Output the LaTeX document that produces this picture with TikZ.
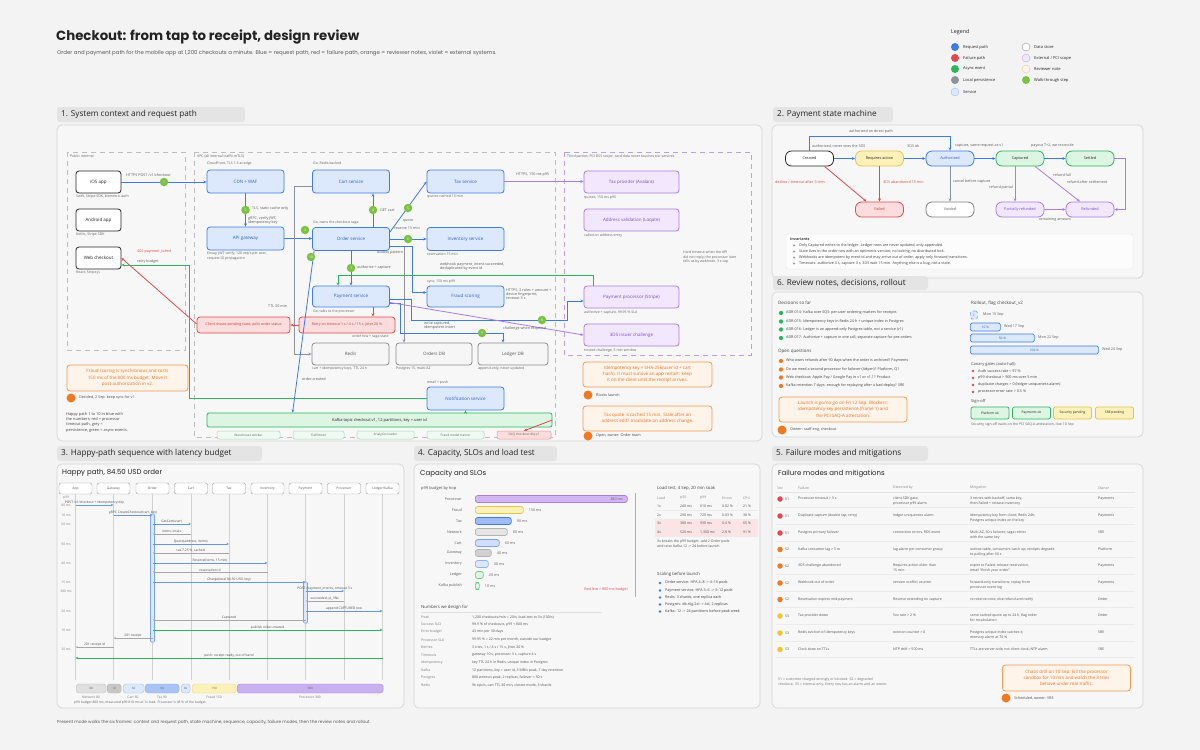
\documentclass[tikz,border=0pt]{standalone}
\usepackage{fontspec}
\setmainfont{Open Sans}
\newfontfamily\hand{Poppins}
\usetikzlibrary{arrows.meta,calc}
\newcommand\fz[2]{\fontsize{#1}{#2}\selectfont}
\definecolor{pagebg}{HTML}{F3F3F3}
\definecolor{framebg}{HTML}{F7F7F7}
\definecolor{frameline}{HTML}{D4D4D4}
\definecolor{tabbg}{HTML}{E4E4E4}
\definecolor{ink}{HTML}{222222}
\definecolor{capgray}{HTML}{5E5E5E}
\definecolor{reqblue}{HTML}{3F7BE6}
\definecolor{svcfill}{HTML}{DCE8FC}
\definecolor{svctext}{HTML}{2F5FBF}
\definecolor{failred}{HTML}{E04A4A}
\definecolor{failfill}{HTML}{FCDCDC}
\definecolor{asyncgreen}{HTML}{2DB55D}
\definecolor{asyncfill}{HTML}{DDF5E3}
\definecolor{persistgray}{HTML}{8E939B}
\definecolor{storefill}{HTML}{F6F6F6}
\definecolor{extviolet}{HTML}{A97CE8}
\definecolor{extfill}{HTML}{F1E8FD}
\definecolor{exttext}{HTML}{7A4CC2}
\definecolor{noteline}{HTML}{F39A4E}
\definecolor{notefill}{HTML}{FFF4EA}
\definecolor{notetext}{HTML}{E8711F}
\definecolor{noteorange}{HTML}{F07A22}
\definecolor{steplime}{HTML}{7CC242}
\definecolor{yelfill}{HTML}{FCF1B8}
\definecolor{yelline}{HTML}{E2C44D}
\definecolor{zonegray}{HTML}{BDBDBD}
\definecolor{sevyellow}{HTML}{F2C230}
\definecolor{sevorange}{HTML}{F07A22}
\newcommand\li[6]{%
  \node[circle, fill=#3, minimum size=#4pt, inner sep=0pt] (#6d) at (#1,#2) {};
  \node[lbl, anchor=west, text=ink!85] (#6t) at (#1+5,#2) {#5};}
\newcommand\fmrow[8]{%
  \node[circle, fill=#2, minimum size=5.5pt, inner sep=0pt] (fd#8) at (780,#1) {};
  \node[tabl, anchor=west] (fs#8) at (785,#1) {#3};
  \node[tabl, anchor=north west, align=left] (ff#8) at (798,#1-2) {#4};
  \node[tabl, anchor=north west, align=left] (fb#8) at (893,#1-2) {#5};
  \node[tabl, anchor=north west, align=left] (fm#8) at (970,#1-2) {#6};
  \node[tabl, anchor=north west, align=left] (fo#8) at (1098,#1-2) {#7};
  \draw[black!8, line width=0.4pt] (776,#1+8) -- (1135,#1+8);}
\newcommand\seqmsg[6]{%
  \draw[#5] (#1 |- 0,#3) -- node[above=0.6pt, seql] (#6) {#4} (#2 |- 0,#3);}
\begin{document}
\begin{tikzpicture}[x=1pt,y=-1pt,
  every node/.style={inner sep=0pt, text=ink},
  frame/.style={draw=frameline, fill=framebg, rounded corners=5pt, line width=0.7pt},
  tabtxt/.style={font=\fz{8.2}{9}, anchor=west, text=ink},
  captxt/.style={font=\fz{3.5}{4.2}, text=capgray, anchor=north west},
  lbl/.style={font=\fz{3.7}{4.4}, text=capgray},
  tabl/.style={font=\fz{3.5}{5}, text=ink!80},
  seql/.style={font=\fz{3.3}{4}, text=ink!80},
  box/.style={rounded corners=3pt, line width=0.8pt, font=\fz{4.5}{5.4}, align=center},
  svc/.style={box, draw=reqblue, fill=svcfill, text=svctext, minimum width=77pt, minimum height=23pt},
  client/.style={box, draw=black!85, fill=white, minimum width=45pt, minimum height=22pt},
  store/.style={box, draw=black!45, fill=storefill, text=ink!75, minimum height=22pt},
  ext/.style={box, draw=extviolet, fill=extfill, text=exttext, minimum width=95pt, minimum height=22pt},
  failbox/.style={box, draw=failred, fill=failfill, text=failred!85!black, minimum height=16pt, font=\fz{3.6}{4.3}},
  note/.style={box, draw=noteline, fill=notefill, text=notetext, font=\fz{4.5}{6.2}},
  kbox/.style={rounded corners=2pt, draw=asyncgreen!45, fill=asyncfill!45, line width=0.5pt, minimum height=8pt, font=\fz{3.2}{4}, text=ink!70},
  stepdot/.style={circle, fill=steplime, minimum size=8.5pt, font=\fz{3.4}{4}, text=white},
  odot/.style={circle, fill=noteorange, minimum size=9pt},
  req/.style={draw=reqblue, line width=0.8pt, -{Stealth[length=3.2pt,width=2.8pt]}},
  fail/.style={draw=failred, line width=0.8pt, -{Stealth[length=3.2pt,width=2.8pt]}},
  async/.style={draw=asyncgreen, line width=0.8pt, -{Stealth[length=3.2pt,width=2.8pt]}},
  persist/.style={draw=persistgray, line width=0.8pt, -{Stealth[length=3.2pt,width=2.8pt]}},
  extl/.style={draw=extviolet, line width=0.8pt, -{Stealth[length=3.2pt,width=2.8pt]}},
  zone/.style={draw=zonegray, dash pattern=on 5pt off 4pt, line width=0.7pt},
  pstate/.style={rounded corners=6pt, line width=0.8pt, minimum width=48pt, minimum height=15pt, font=\fz{3.8}{4.5}},
  hdr/.style={rounded corners=2pt, draw=black!40, fill=white, minimum width=33pt, minimum height=11pt, font=\fz{3.3}{4}, text=ink!75},
  hbar/.style={rounded corners=2.5pt, line width=0.7pt, minimum height=7pt, anchor=west},
  rbar/.style={rounded corners=1.5pt, draw=reqblue, fill=svcfill, line width=0.7pt, minimum height=8pt, font=\fz{3.2}{4}, text=svctext},
  sbox/.style={rounded corners=2pt, line width=0.7pt, minimum width=38pt, minimum height=12pt, font=\fz{3.3}{4}},
  seg/.style={rounded corners=3pt, minimum height=9pt, font=\fz{3}{4}, text=ink!70, anchor=west}
]
\useasboundingbox (0,0) rectangle (1200,750);
\fill[pagebg] (0,0) rectangle (1200,750);

% ---------- title ----------
\node[anchor=west, font=\hand\bfseries\fz{13.3}{15}] (title) at (56,37) {Checkout: from tap to receipt, design review};
\node[anchor=west, font=\hand\fz{5.4}{6.5}, text=ink!75] (subtitle) at (57,53) {Order and payment path for the mobile app at 1,200 checkouts a minute. Blue = request path, red = failure path, orange = reviewer notes, violet = external systems.};

% ---------- legend ----------
\node[anchor=west, font=\fz{5.3}{6}] (legT) at (951,32) {Legend};
\node[circle, fill=reqblue, minimum size=8pt] (lg1) at (955,47) {};
\node[anchor=west, font=\fz{4}{5}] (lg1t) at (963,47) {Request path};
\node[circle, fill=failred, minimum size=8pt] (lg2) at (955,58) {};
\node[anchor=west, font=\fz{4}{5}] (lg2t) at (963,58) {Failure path};
\node[circle, fill=asyncgreen, minimum size=8pt] (lg3) at (955,69) {};
\node[anchor=west, font=\fz{4}{5}] (lg3t) at (963,69) {Async event};
\node[circle, fill=persistgray, minimum size=8pt] (lg4) at (955,80) {};
\node[anchor=west, font=\fz{4}{5}] (lg4t) at (963,80) {Local persistence};
\node[circle, fill=svcfill, draw=reqblue!50, minimum size=8pt] (lg5) at (955,92) {};
\node[anchor=west, font=\fz{4}{5}] (lg5t) at (963,92) {Service};
\node[circle, fill=white, draw=black!40, minimum size=8pt] (lg6) at (1026,47) {};
\node[anchor=west, font=\fz{4}{5}] (lg6t) at (1034,47) {Data store};
\node[circle, fill=extfill, draw=extviolet!70, minimum size=8pt] (lg7) at (1026,58) {};
\node[anchor=west, font=\fz{4}{5}] (lg7t) at (1034,58) {External / PCI scope};
\node[circle, fill=notefill, draw=noteline!60, minimum size=8pt] (lg8) at (1026,69) {};
\node[anchor=west, font=\fz{4}{5}] (lg8t) at (1034,69) {Reviewer note};
\node[circle, fill=steplime, minimum size=8pt] (lg9) at (1026,80) {};
\node[anchor=west, font=\fz{4}{5}] (lg9t) at (1034,80) {Walk-through step};

% =====================================================================
% FRAME 1
\fill[tabbg, rounded corners=3pt] (57,107) rectangle (245,122);
\node[tabtxt] (tab1) at (61,114.5) {1. System context and request path};
\draw[frame] (57,125) rectangle (762,441);

\draw[zone] (67,152) rectangle (185,350);
\node[captxt] (zpub) at (70,155) {Public internet};
\draw[zone] (194,152) rectangle (555,437);
\node[captxt] (zvpc) at (197,155) {VPC (all internal traffic mTLS)};
\draw[zone, draw=extviolet!75] (564,152) rectangle (751,355);
\node[captxt] (zext) at (567,155) {Third parties, PCI DSS scope: card data never touches our services};

% clients
\node[client] (ios) at (98.5,182) {iOS app};
\node[captxt] (iosc) at (76,195) {Swift, Stripe SDK, biometric auth};
\node[client] (android) at (98.5,220) {Android app};
\node[captxt] (androidc) at (76,233) {Kotlin, Stripe SDK};
\node[client] (web) at (98.5,258) {Web checkout};
\node[captxt] (webc) at (76,271) {React, Stripe.js};

% services
\node[svc] (cdn) at (245.5,181.5) {CDN + WAF};
\node[captxt] (cdnc) at (207,162) {CloudFront, TLS 1.3 at edge};
\node[svc] (apigw) at (245.5,238.5) {API gateway};
\node[captxt, align=left] (apigwc) at (207,252) {Envoy, JWT verify, 120 req/s per user,\\request ID propagation};
\node[svc] (cart) at (351,181.5) {Cart service};
\node[captxt] (cartc) at (313,162) {Go, Redis-backed};
\node[svc] (tax) at (465.5,181.5) {Tax service};
\node[captxt] (taxc) at (427,195) {quotes cached 15 min};
\node[svc] (order) at (351,239) {Order service};
\node[captxt] (orderc) at (313,221) {Go, owns the checkout saga};
\node[svc] (inv) at (465.5,239) {Inventory service};
\node[captxt] (invc) at (427,252.5) {reservation 15 min};
\node[svc, minimum height=21pt] (pay) at (351,296.5) {Payment service};
\node[captxt] (payc) at (313,310) {Go, talks to the processor};
\node[svc, minimum height=21pt] (fraud) at (465.5,296.5) {Fraud scoring};
\node[captxt] (fraudc) at (427,279.5) {sync, 150 ms p99};
\node[svc] (notif) at (465.5,398.5) {Notification service};
\node[captxt] (notifc) at (427,381) {email + push};

% failure boxes
\node[failbox, minimum width=96pt] (retry) at (347,325) {Retry on timeout 1 s / 4 s / 15 s, jitter 20 \%};
\node[failbox, minimum width=93pt] (cfail) at (243.5,325) {Client shows pending state, polls order status};
\node[captxt] (retryc) at (352,334.5) {order row + saga state};

% stores
\node[store, minimum width=77pt] (redis) at (350.5,354) {Redis};
\node[captxt] (redisc) at (312,367) {cart + idempotency keys, TTL 24 h};
\node[store, minimum width=76pt] (ordersdb) at (434,354) {Orders DB};
\node[captxt] (ordersdbc) at (396,367) {Postgres 15, multi-AZ};
\node[store, minimum width=70pt] (ledgerdb) at (513,354) {Ledger DB};
\node[captxt] (ledgerdbc) at (478,367) {append-only, never updated};

% kafka
\node[rounded corners=2pt, draw=asyncgreen, fill=asyncfill, line width=0.8pt, minimum width=345pt, minimum height=14pt, font=\fz{4}{5}] (kafka) at (379.5,420) {Kafka topic checkout.v1, 12 partitions, key = user id};
\node[kbox, minimum width=63pt] (kw) at (248.5,435) {Warehouse worker};
\node[kbox, minimum width=51pt] (kf) at (318.5,435) {Fulfilment};
\node[kbox, minimum width=57pt] (ka) at (385.5,435) {Analytics loader};
\node[kbox, minimum width=57pt] (kt) at (455.5,435) {Fraud model trainer};
\node[kbox, draw=failred!60, fill=failfill, minimum width=54pt] (dlq) at (524,435) {DLQ checkout.dlq.v1};

% external
\node[ext] (taxp) at (631.5,182) {Tax provider (Avalara)};
\node[captxt] (taxpc) at (584,195.5) {quotes, 150 ms p95};
\node[ext] (addr) at (631.5,220) {Address validation (Loqate)};
\node[captxt] (addrc) at (584,233.5) {called on address entry};
\node[ext] (stripe) at (631.5,297) {Payment processor (Stripe)};
\node[captxt] (stripec) at (584,310.5) {authorize + capture, 99.95 \% SLA};
\node[ext] (tds) at (631.5,335) {3DS issuer challenge};
\node[captxt] (tdsc) at (584,348.5) {hosted challenge, 5 min window};
\node[captxt, align=left] (extnote) at (683,251) {Hard timeout when the API\\did not reply; the processor later\\tells us by webhook, 3 s cap};

% connectors
\draw[req] (ios.east) -- (ios.east -| cdn.west);
\draw[req] (cdn) -- (apigw);
\draw[req] (apigw.east) -- (apigw.east -| order.west);
\draw[req] ([xshift=22pt]order.north) -- ([xshift=22pt]cart.south);
\draw[req] ($(order.north east)+(0,5)$) -- (tax.west);
\draw[req] (order.east) -- (inv.west);
\draw[req] (order) -- (pay);
\draw[persist] ($(order.east)+(0,7)$) -| ([xshift=-30pt]ordersdb.north);
\draw[req] ($(order.east)+(0,7)$) -| ($(fraud.west)+(-14,-4)$) -- ($(fraud.west)+(0,-4)$);
\draw[persist] ($(cart.west)+(0,4.5)$) -- ++(-18,0) |- (redis.west);
\draw[fail] ([xshift=22pt]pay.south) -- ([xshift=22pt]pay.south |- retry.north);
\draw[fail] (retry.west) -- (cfail.east);
\draw[fail] ([yshift=1pt]cfail.west) -- (web.east);
\coordinate (gw1) at (189,398.5);
\draw[async] (notif.west) -- (gw1) |- ($(web.east)+(0,7)$);
\draw[async] ($(stripe.north)+(-38.5,0)$) -- ++(0,-10) -| ([xshift=-13pt]pay.north);
\draw[req] ($(pay.east)+(0,3)$) -- ++(21,0) |- (567,320) |- ($(stripe.west)+(0,4)$);
\draw[req] ($(pay.east)+(0,7)$) -| (400,333) -| ([xshift=-10pt]ledgerdb.north);
\draw[extl] ($(pay.east)+(0,6)$) -- (tds.west);
\draw[extl] (tax.east) -- (tax.east -| taxp.west);
\draw[req] ([xshift=2pt]order.south west) -- ([xshift=86pt]kafka.north west);
\draw[async] (kafka.north -| notif.south) -- (notif.south);
\draw[fail] (kafka.east) -- (dlq.north);

% step dots
\node[stepdot] (s1) at (164,182) {1};
\node[stepdot] (s2) at (245.5,210) {2};
\node[stepdot] (s3) at (305,230) {3};
\node[stepdot] (s4) at (373,210) {4};
\node[stepdot] (s5) at (408,208) {5};
\node[stepdot] (s6) at (408,239) {6};
\node[stepdot] (s7) at (351,268) {7};
\node[stepdot] (s8) at (542,320) {8};
\node[stepdot] (s9) at (482,333) {9};
\node[stepdot] (s10) at (311,257) {10};

% connector labels
\node[lbl, anchor=west] (l1) at (126,175) {HTTPS POST /v1/checkout};
\node[lbl, anchor=west] (l2) at (252,209) {TLS, static cache only};
\node[lbl, anchor=north west, align=left] (l3) at (248,216.5) {gRPC, verify JWT,\\idempotency key};
\node[lbl, anchor=west] (l4) at (380,210) {GET cart};
\node[lbl] (l5) at (408,221) {quote};
\node[lbl] (l6) at (407,228) {reserve 15 min};
\node[lbl, anchor=west] (l7) at (377,252.5) {outbox pattern};
\node[lbl, anchor=west] (l8) at (357,268) {authorize + capture};
\node[lbl, anchor=north west, align=left] (l9) at (440,262) {webhook payment\_intent.succeeded,\\deduplicated by event id};
\node[lbl, anchor=north west, align=left] (l10) at (506,288) {HTTPS, 3 rules + amount +\\device fingerprint,\\timeout 3 s};
\node[lbl, anchor=north west, align=left] (l11) at (424,321.5) {write captured,\\idempotent insert};
\node[lbl, anchor=west] (l12) at (503,329) {challenge when required};
\node[lbl, anchor=west] (l13) at (516,175) {HTTPS, 150 ms p95};
\node[lbl, anchor=west] (l14) at (268,306) {TTL 30 min};
\node[lbl, anchor=west] (l15) at (302,379) {order.created};
\node[lbl, anchor=west, text=failred] (l16) at (137,252) {402 payment\_failed};
\node[lbl, anchor=west] (l17) at (137,262) {retry budget};

% notes frame 1
\node[note, minimum width=121pt, minimum height=26pt] (n1) at (127.5,378) {Fraud scoring is synchronous and costs\\150 ms of the 800 ms budget. Move it\\post-authorization in v2.};
\node[odot] (n1d) at (71,398) {};
\node[lbl, anchor=west, text=ink!80] (n1t) at (79,398) {Decided, 2 Sep: keep sync for v1};
\node[anchor=north west, align=left, font=\fz{3.9}{5.3}, text=ink!85] (hp) at (66,412) {Happy path 1 to 10 in blue with\\the numbers; red = processor\\timeout path, grey =\\persistence, green = async events.};
\node[note, minimum width=129pt, minimum height=25pt] (n2) at (647.5,374.5) {Idempotency key = SHA-256(user id + cart\\hash). It must survive an app restart: keep\\it on the client until the receipt arrives.};
\node[odot] (n2d) at (588,395) {};
\node[lbl, anchor=west, text=ink!80] (n2t) at (596,395) {Blocks launch};
\node[note, minimum width=129pt, minimum height=25pt] (n3) at (647.5,418.5) {Tax quote is cached 15 min. Stale after an\\address edit? Invalidate on address change.};
\node[odot] (n3d) at (588,436) {};
\node[lbl, anchor=west, text=ink!80] (n3t) at (596,436) {Open, owner: Order team};

% =====================================================================
% FRAME 2
\fill[tabbg, rounded corners=3pt] (773,107) rectangle (893,122);
\node[tabtxt] (tab2) at (777,114.5) {2. Payment state machine};
\draw[frame] (772,125) rectangle (1143,278);

\node[pstate, draw=black!85, fill=white] (created) at (809.5,158.5) {Created};
\node[pstate, draw=yelline, fill=yelfill] (reqact) at (879.5,158.5) {Requires action};
\node[pstate, draw=reqblue, fill=svcfill, text=svctext] (authd) at (950,158.5) {Authorized};
\node[pstate, draw=asyncgreen, fill=asyncfill] (capt) at (1020,158.5) {Captured};
\node[pstate, draw=asyncgreen, fill=asyncfill] (settled) at (1090,158.5) {Settled};
\node[pstate, draw=failred, fill=failfill, text=failred!85!black] (failed) at (879.5,209.5) {Failed};
\node[pstate, draw=black!50, fill=white, text=ink!70] (voided) at (950,209.5) {Voided};
\node[pstate, draw=extviolet, fill=extfill, text=exttext] (partref) at (1020,209.5) {Partially refunded};
\node[pstate, draw=extviolet, fill=extfill, text=exttext] (refunded) at (1090,209.5) {Refunded};

\draw[req] (created) -- (reqact);
\draw[req] (reqact) -- (authd);
\draw[req] (authd) -- (capt);
\draw[req] (capt) -- (settled);
\draw[req] (created.north) -- ++(0,-14) -| (authd.north);
\draw[fail] ([xshift=15pt]created.south) -- ([xshift=-13pt]failed.north);
\draw[fail] (reqact) -- (failed);
\draw[persist] (authd) -- (voided);
\draw[extl] ([xshift=-5pt]capt.south) -- ([xshift=-5pt]partref.north);
\draw[extl] ([xshift=15pt]capt.south) -- ([xshift=-10pt]refunded.north);
\draw[extl] (partref) -- (refunded);
\draw[extl] (settled.east) -- ++(11,0) |- (refunded.east);

\node[lbl] (m1) at (871,131.5) {authorized on direct path};
\node[lbl, anchor=west] (m2) at (812,146) {authorized, never sees the 3DS};
\node[lbl, anchor=west] (m3) at (907,146) {3DS ok};
\node[lbl, anchor=west] (m4) at (955,146) {capture, same request as v1};
\node[lbl, anchor=west] (m5) at (1031,146) {payout T+2, we reconcile};
\node[lbl, anchor=west, text=failred] (m6) at (775,182) {decline / timeout after 3 tries};
\node[lbl, anchor=west, text=failred] (m7) at (883,182) {3DS abandoned 15 min};
\node[lbl, anchor=west] (m8) at (953,182) {cancel before capture};
\node[lbl, anchor=east] (m9) at (1013,188) {refund partial};
\node[lbl, anchor=west] (m10) at (1053,175) {refund full};
\node[lbl, anchor=west] (m11) at (1067,182) {refund after settlement};
\node[lbl] (m12) at (1055,220) {remaining amount};

\draw[rounded corners=2pt, fill=white!60!framebg, draw=black!10] (786,234) rectangle (1133,269);
\node[anchor=west, font=\fz{3.8}{4.5}\bfseries, text=ink!85] (invT) at (790,239) {Invariants};
\li{794}{245.5}{black!40}{2.4}{Only Captured writes to the ledger. Ledger rows are never updated, only appended.}{iv1}
\li{794}{251.5}{black!40}{2.4}{State lives in the order row with an optimistic version; no locking, no distributed lock.}{iv2}
\li{794}{257.5}{black!40}{2.4}{Webhooks are idempotent by event id and may arrive out of order: apply only forward transitions.}{iv3}
\li{794}{263.5}{black!40}{2.4}{Timeouts: authorize 3 s, capture 4 s, 3DS wait 15 min. Anything else is a bug, not a state.}{iv4}

% =====================================================================
% FRAME 6
\draw[frame] (772,292) rectangle (1143,437);
\fill[tabbg, rounded corners=3pt] (773,276) rectangle (928,290);
\node[tabtxt] (tab6) at (777,283) {6. Review notes, decisions, rollout};

\node[anchor=west, font=\fz{4.5}{5.4}, text=ink!85] (decT) at (778,303) {Decisions so far};
\li{781}{313}{asyncgreen}{4.3}{ADR-014: Kafka over SQS: per-user ordering matters for receipts}{dc1}
\li{781}{321.5}{asyncgreen}{4.3}{ADR-015: Idempotency keys in Redis 24 h + unique index in Postgres}{dc2}
\li{781}{329.5}{asyncgreen}{4.3}{ADR-016: Ledger is an append-only Postgres table, not a service (v1)}{dc3}
\li{781}{338}{asyncgreen}{4.3}{ADR-017: Authorize + capture in one call; separate capture for pre-orders}{dc4}
\node[anchor=west, font=\fz{4.5}{5.4}, text=ink!85] (oqT) at (778,351) {Open questions};
\li{781}{361}{noteorange}{4.3}{Who owns refunds after 90 days when the order is archived? Payments}{oq1}
\li{781}{369.5}{noteorange}{4.3}{Do we need a second processor for failover (Adyen)? Platform, Q1}{oq2}
\li{781}{377.5}{noteorange}{4.3}{Web checkout: Apple Pay / Google Pay in v1 or v1.1? Product}{oq3}
\li{781}{386}{noteorange}{4.3}{Kafka retention 7 days: enough for replaying after a bad deploy? SRE}{oq4}
\node[note, minimum width=128pt, minimum height=25pt] (n6) at (843,409.5) {Launch is go/no-go on Fri 12 Sep. Blockers:\\idempotency key persistence (frame 1) and\\the PCI SAQ-A attestation.};
\node[odot] (n6d) at (782,430) {};
\node[lbl, anchor=west, text=ink!80] (n6t) at (790,430) {Owner: staff eng, checkout};

\node[anchor=west, font=\fz{4.5}{5.4}, text=ink!85] (roT) at (971,303) {Rollout, flag checkout\_v2};
\node[rbar, minimum width=7pt, anchor=west, draw=reqblue!70, dashed] (r1) at (970,315) {1};
\node[lbl, anchor=west] (r1t) at (983,315) {Mon 15 Sep};
\node[rbar, minimum width=30pt, anchor=west] (r2) at (970,327) {10 \%};
\node[lbl, anchor=west] (r2t) at (1004,327) {Wed 17 Sep};
\node[rbar, minimum width=64pt, anchor=west] (r3) at (970,338) {50 \%};
\node[lbl, anchor=west] (r3t) at (1038,338) {Mon 22 Sep};
\node[rbar, minimum width=128pt, anchor=west] (r4) at (970,350) {100 \%};
\node[lbl, anchor=west] (r4t) at (1102,350) {Wed 24 Sep};
\node[anchor=west, font=\fz{4}{5}, text=ink!85] (cgT) at (971,364) {Canary gates (auto-halt)};
\li{973}{371}{failred}{2.6}{Auth success rate < 97 \%}{cg1}
\li{973}{378}{failred}{2.6}{p99 checkout > 900 ms over 5 min}{cg2}
\li{973}{385}{failred}{2.6}{duplicate charges > 0 (ledger uniqueness alarm)}{cg3}
\li{973}{392}{failred}{2.6}{processor error rate > 0.5 \%}{cg4}
\node[anchor=west, font=\fz{4}{5}, text=ink!85] (soT) at (971,401) {Sign-off};
\node[sbox, draw=asyncgreen, fill=asyncfill] (so1) at (990,413) {Platform ok};
\node[sbox, draw=asyncgreen, fill=asyncfill] (so2) at (1031.5,413) {Payments ok};
\node[sbox, draw=yelline, fill=yelfill] (so3) at (1072.5,413) {Security pending};
\node[sbox, draw=yelline, fill=yelfill] (so4) at (1114.5,413) {SRE pending};
\node[captxt] (soc) at (971,423) {Security sign-off waits on the PCI SAQ-A attestation, due 10 Sep};

% =====================================================================
% FRAME 3
\fill[tabbg, rounded corners=3pt] (57,446) rectangle (262,461);
\node[tabtxt] (tab3) at (61,453.5) {3. Happy-path sequence with latency budget};
\draw[frame] (57,464) rectangle (404,708);
\node[anchor=west, font=\hand\fz{7}{8}] (f3T) at (62,473) {Happy path, 84.50 USD order};

\node[hdr] (hApp) at (75.5,488.5) {App};
\node[hdr] (hGw) at (113.5,488.5) {Gateway};
\node[hdr] (hOrd) at (152.5,488.5) {Order};
\node[hdr] (hCart) at (191,488.5) {Cart};
\node[hdr] (hTax) at (229,488.5) {Tax};
\node[hdr] (hInv) at (267.5,488.5) {Inventory};
\node[hdr] (hPay) at (305.5,488.5) {Payment};
\node[hdr] (hProc) at (344,488.5) {Processor};
\node[hdr] (hLed) at (382.5,488.5) {Ledger/Kafka};
\foreach \h in {hApp,hGw,hOrd,hCart,hTax,hInv,hPay,hProc,hLed}
  \draw[black!18, line width=0.5pt] (\h.south) -- (\h |- 0,680);
\draw[rounded corners=1pt, fill=svcfill, draw=reqblue!70, line width=0.6pt] (150.5,514) rectangle (154.5,642);
\draw[rounded corners=1pt, fill=svcfill, draw=reqblue!70, line width=0.6pt] (303.5,582) rectangle (307.5,623);

\tikzset{sreq/.style={draw=reqblue!80, line width=0.7pt, -{Stealth[length=2.6pt,width=2.4pt]}},
         sret/.style={draw=black!35, line width=0.5pt, -{Stealth[length=2.4pt,width=2.2pt,open]}},
         sasy/.style={draw=asyncgreen, line width=0.9pt, -{Stealth[length=2.6pt,width=2.4pt]}}}
\seqmsg{hApp}{hGw}{505}{POST /v1/checkout + Idempotency-Key}{sreq}{q1}
\seqmsg{hGw}{hOrd}{515}{gRPC CreateCheckout(cart, key)}{sreq}{q2}
\seqmsg{hOrd}{hCart}{524}{GetCart(user)}{sreq}{q3}
\seqmsg{hCart}{hOrd}{534}{items, totals}{sret}{q4}
\seqmsg{hOrd}{hTax}{544}{Quote(address, items)}{sreq}{q5}
\seqmsg{hTax}{hOrd}{553}{tax 7.25 \%, cached}{sret}{q6}
\seqmsg{hOrd}{hInv}{563}{Reserve(items, 15 min)}{sreq}{q7}
\seqmsg{hInv}{hOrd}{572}{reservation id}{sret}{q8}
\seqmsg{hOrd}{hPay}{582}{Charge(total 84.50 USD, key)}{sreq}{q9}
\seqmsg{hPay}{hProc}{591}{POST /payment\_intents, timeout 3 s}{sreq}{q10}
\seqmsg{hProc}{hPay}{601}{succeeded, pi\_3Nx}{sret}{q11}
\seqmsg{hPay}{hLed}{611}{append CAPTURED row}{sreq}{q12}
\seqmsg{hPay}{hOrd}{620}{Captured}{sret}{q13}
\seqmsg{hOrd}{hLed}{630}{publish order.created}{sasy}{q14}
\seqmsg{hOrd}{hGw}{638}{201 receipt}{sret}{q15}
\seqmsg{hGw}{hApp}{647}{201 receipt id}{sret}{q16}
\seqmsg{hLed}{hApp}{658}{push: receipt ready, out of band}{sasy}{q17}

\node[seql, text=ink!55] (tl0) at (66,498) {p99};
\node[seql, text=ink!55] (tl1) at (66,505) {80 ms};
\node[seql, text=ink!55] (tl2) at (66,515) {10 ms};
\node[seql, text=ink!55] (tl3) at (66,524) {60 ms};
\node[seql, text=ink!55] (tl4) at (66,544) {90 ms};
\node[seql, text=ink!55] (tl5) at (66,563) {40 ms};
\node[seql, text=ink!55] (tl6) at (66,582) {15 ms};
\node[seql, text=ink!55] (tl7) at (66,591) {380 ms};
\node[seql, text=ink!55] (tl8) at (66,611) {20 ms};
\node[seql, text=ink!55] (tl9) at (66,630) {10 ms};
\node[seql, text=ink!55] (tl10) at (66,649) {30 ms};

\node[seg, fill=black!12, draw=black!25, minimum width=30pt] (g1) at (76,688.5) {80};
\node[seg, fill=black!22, draw=black!30, minimum width=14pt] (g2) at (107,688.5) {10};
\node[seg, fill=svcfill, draw=reqblue!50, minimum width=21pt] (g3) at (123,688.5) {60};
\node[seg, fill=reqblue!45, draw=reqblue!60, minimum width=34pt] (g4) at (145,688.5) {90};
\node[seg, fill=svcfill, draw=reqblue!50, minimum width=9pt] (g5) at (181,688.5) {40};
\node[seg, fill=yelfill, draw=yelline!70, minimum width=44pt] (g6) at (192,688.5) {150};
\node[seg, fill=extviolet!60, draw=extviolet, minimum width=146pt] (g7) at (237,688.5) {380};
\node[seql, text=ink!60] (gl1) at (91,697) {Network 80};
\node[seql, text=ink!60] (gl2) at (133,697) {Cart 60};
\node[seql, text=ink!60] (gl3) at (162,697) {Tax 90};
\node[seql, text=ink!60] (gl4) at (214,697) {Fraud 150};
\node[seql, text=ink!60] (gl5) at (310,697) {Processor 380};
\node[seql, anchor=west, text=ink!70] (gcap) at (74,702.5) {p99 budget 800 ms, measured p99 810 ms at 1x load. Processor is 48 \% of the budget.};

% =====================================================================
% FRAME 4
\fill[tabbg, rounded corners=3pt] (414,446) rectangle (557,461);
\node[tabtxt] (tab4) at (418,453.5) {4. Capacity, SLOs and load test};
\draw[frame] (414,464) rectangle (760,708);
\node[anchor=west, font=\hand\fz{7}{8}] (f4T) at (420,474) {Capacity and SLOs};
\node[anchor=west, font=\fz{4}{5}, text=ink!80] (bT) at (421,488) {p99 budget by hop};

\node[lbl, anchor=east] (bl1) at (462,499) {Processor};
\node[hbar, fill=extviolet!55, draw=extviolet, minimum width=152pt] (bp1) at (475,499) {};
\node[lbl, anchor=east, text=ink!70] (bv1) at (623,499) {380 ms};
\node[lbl, anchor=east] (bl2) at (462,510) {Fraud};
\node[hbar, fill=yelfill, draw=yelline, minimum width=48pt] (bp2) at (475,510) {};
\node[lbl, anchor=west] (bv2) at ([xshift=5pt]bp2.east) {150 ms};
\node[lbl, anchor=east] (bl3) at (462,521) {Tax};
\node[hbar, fill=reqblue!50, draw=reqblue, minimum width=36pt] (bp3) at (475,521) {};
\node[lbl, anchor=west] (bv3) at ([xshift=5pt]bp3.east) {90 ms};
\node[lbl, anchor=east] (bl4) at (462,532) {Network};
\node[hbar, fill=black!10, draw=black!30, minimum width=32pt] (bp4) at (475,532) {};
\node[lbl, anchor=west] (bv4) at ([xshift=5pt]bp4.east) {80 ms};
\node[lbl, anchor=east] (bl5) at (462,543) {Cart};
\node[hbar, fill=reqblue!25, draw=reqblue!70, minimum width=24pt] (bp5) at (475,543) {};
\node[lbl, anchor=west] (bv5) at ([xshift=5pt]bp5.east) {60 ms};
\node[lbl, anchor=east] (bl6) at (462,553) {Gateway};
\node[hbar, fill=black!18, draw=black!30, minimum width=16pt] (bp6) at (475,553) {};
\node[lbl, anchor=west] (bv6) at ([xshift=5pt]bp6.east) {40 ms};
\node[lbl, anchor=east] (bl7) at (462,564) {Inventory};
\node[hbar, fill=svcfill, draw=reqblue!60, minimum width=13pt] (bp7) at (475,564) {};
\node[lbl, anchor=west] (bv7) at ([xshift=5pt]bp7.east) {30 ms};
\node[lbl, anchor=east] (bl8) at (462,575) {Ledger};
\node[hbar, fill=asyncfill, draw=asyncgreen!70, minimum width=8pt] (bp8) at (475,575) {};
\node[lbl, anchor=west] (bv8) at ([xshift=5pt]bp8.east) {20 ms};
\node[lbl, anchor=east] (bl9) at (462,586) {Kafka publish};
\node[hbar, fill=asyncfill, draw=asyncgreen!70, minimum width=4pt] (bp9) at (475,586) {};
\node[lbl, anchor=west] (bv9) at ([xshift=5pt]bp9.east) {10 ms};
\draw[failred!60, line width=0.8pt] (635,493) coordinate (rl1) -- (635,597) coordinate (rl2);
\node[lbl, anchor=east, text=failred] (rlt) at (628,590) {Red line = 800 ms budget};

\node[anchor=west, font=\fz{4.3}{5}, text=ink!85] (nT) at (421,607) {Numbers we design for};
\draw[black!12, line width=0.4pt] (421,612) -- (602,612);
\node[tabl, anchor=west, text=ink!60] (nk1) at (421,617) {Peak};
\node[tabl, anchor=west] (nv1) at (472,617) {1,200 checkouts/min = 20/s; load-test to 5x (100/s)};
\node[tabl, anchor=west, text=ink!60] (nk2) at (421,624.5) {Success SLO};
\node[tabl, anchor=west] (nv2) at (472,624.5) {99.9 \% of checkouts, p99 < 800 ms};
\node[tabl, anchor=west, text=ink!60] (nk3) at (421,632) {Error budget};
\node[tabl, anchor=west] (nv3) at (472,632) {43 min per 30 days};
\node[tabl, anchor=west, text=ink!60] (nk4) at (421,640) {Processor SLA};
\node[tabl, anchor=west] (nv4) at (472,640) {99.95 \% = 22 min per month, outside our budget};
\node[tabl, anchor=west, text=ink!60] (nk5) at (421,647.5) {Retries};
\node[tabl, anchor=west] (nv5) at (472,647.5) {3 tries, 1 s / 4 s / 15 s, jitter 20 \%};
\node[tabl, anchor=west, text=ink!60] (nk6) at (421,655) {Timeouts};
\node[tabl, anchor=west] (nv6) at (472,655) {gateway 10 s, processor 3 s, capture 4 s};
\node[tabl, anchor=west, text=ink!60] (nk7) at (421,663) {Idempotency};
\node[tabl, anchor=west] (nv7) at (472,663) {key TTL 24 h in Redis, unique index in Postgres};
\node[tabl, anchor=west, text=ink!60] (nk8) at (421,670.5) {Kafka};
\node[tabl, anchor=west] (nv8) at (472,670.5) {12 partitions, key = user id, 3 MB/s peak, 7 day retention};
\node[tabl, anchor=west, text=ink!60] (nk9) at (421,678) {Postgres};
\node[tabl, anchor=west] (nv9) at (472,678) {800 writes/s peak, 2 replicas, failover < 30 s};
\node[tabl, anchor=west, text=ink!60] (nk10) at (421,685.5) {Redis};
\node[tabl, anchor=west] (nv10) at (472,685.5) {9k ops/s, cart TTL 30 min, cluster mode, 3 shards};

\node[anchor=west, font=\fz{4.3}{5}, text=ink!85] (ltT) at (657,488) {Load test, 4 Sep, 20 min soak};
\fill[failfill!80, rounded corners=1pt] (655,519) rectangle (758,536);
\foreach \c/\xx in {Load/657,p50/680,p99/700,Errors/722,CPU/743}
  \node[tabl, anchor=west, text=ink!55] (lh\c) at (\xx,498) {\c};
\foreach \yy/\a/\b/\cc/\d/\e [count=\i] in {506/1x/240 ms/610 ms/0.02 \%/21 \%, 515/2x/290 ms/720 ms/0.03 \%/38 \%, 523.5/3x/380 ms/930 ms/0.4 \%/65 \%, 532/4x/520 ms/1{,}300 ms/2.8 \%/91 \%}{
  \node[tabl, anchor=west] (lr\i a) at (657,\yy) {\a};
  \node[tabl, anchor=west] (lr\i b) at (680,\yy) {\b};
  \node[tabl, anchor=west] (lr\i c) at (700,\yy) {\cc};
  \node[tabl, anchor=west] (lr\i d) at (722,\yy) {\d};
  \node[tabl, anchor=west] (lr\i e) at (743,\yy) {\e};
  \draw[black!8, line width=0.4pt] (655,\yy+4.3) -- (758,\yy+4.3);
}
\node[tabl, anchor=north west, align=left] (ltc) at (657,540) {3x breaks the p99 budget: add 2 Order pods\\and raise Kafka 12 -> 24 before launch};
\node[anchor=west, font=\fz{4.3}{5}, text=ink!85] (scT) at (657,574) {Scaling before launch};
\li{660}{583}{reqblue}{2.6}{Order service: HPA 4--8 -> 4--16 pods}{sc1}
\li{660}{590.5}{reqblue}{2.6}{Payment service: HPA 3--6 -> 3--12 pods}{sc2}
\li{660}{597.5}{reqblue}{2.6}{Redis: 3 shards, one replica each}{sc3}
\li{660}{604.5}{reqblue}{2.6}{Postgres: db.r6g.2xl -> 4xl, 2 replicas}{sc4}
\li{660}{611.5}{reqblue}{2.6}{Kafka: 12 -> 24 partitions before peak week}{sc5}

% =====================================================================
% FRAME 5
\fill[tabbg, rounded corners=3pt] (772,446) rectangle (928,461);
\node[tabtxt] (tab5) at (776,453.5) {5. Failure modes and mitigations};
\draw[frame] (772,464) rectangle (1143,708);
\node[anchor=west, font=\hand\fz{7}{8}] (f5T) at (778,474) {Failure modes and mitigations};
\node[tabl, anchor=west, text=ink!55] (fh1) at (777,488) {Sev};
\node[tabl, anchor=west, text=ink!55] (fh2) at (798,488) {Failure};
\node[tabl, anchor=west, text=ink!55] (fh3) at (893,488) {Detected by};
\node[tabl, anchor=west, text=ink!55] (fh4) at (970,488) {Mitigation};
\node[tabl, anchor=west, text=ink!55] (fh5) at (1098,488) {Owner};
\draw[black!10, line width=0.4pt] (776,492) -- (1135,492);
\fmrow{499}{failred}{S1}{Processor timeout > 3 s}{client SDK gate;\\processor p99 alarm}{3 retries with backoff, same key;\\then Failed + release inventory}{Payments}{1}
\fmrow{516}{failred}{S1}{Duplicate capture (double tap, retry)}{ledger uniqueness alarm}{Idempotency key from client; Redis 24h;\\Postgres unique index on the key}{Payments}{2}
\fmrow{533}{failred}{S1}{Postgres primary failover}{connection errors, RDS event}{Multi-AZ, 30 s failover; saga retries\\with the same key}{SRE}{3}
\fmrow{549.5}{sevorange}{S2}{Kafka consumer lag > 5 m}{lag alarm per consumer group}{outbox table, consumers catch up; receipts degrade\\to polling after 60 s}{Platform}{4}
\fmrow{566}{sevorange}{S2}{3DS challenge abandoned}{Requires action older than\\15 min}{expire to Failed, release reservation,\\email ``finish your order''}{Payments}{5}
\fmrow{583}{sevorange}{S2}{Webhook out of order}{version conflict counter}{forward-only transitions; replay from\\processor event log}{Payments}{6}
\fmrow{599.5}{sevorange}{S2}{Reservation expires mid-payment}{Reserve extending on capture}{re-reserve once, else refund and notify}{Order}{7}
\fmrow{616}{sevyellow}{S3}{Tax provider down}{5xx rate > 2 \%}{serve cached quote up to 24 h, flag order\\for recalculation}{Order}{8}
\fmrow{633}{sevyellow}{S3}{Redis eviction of idempotency keys}{eviction counter > 0}{Postgres unique index catches it;\\memory alarm at 70 \%}{SRE}{9}
\fmrow{649.5}{sevyellow}{S3}{Clock skew on TTLs}{NTP drift > 500 ms}{TTLs are server-side, not client clock; NTP alarm}{SRE}{10}
\node[tabl, anchor=north west, align=left, text=ink!65] (ffoot) at (778,678) {S1 = customer charged wrongly or blocked. S2 = degraded\\checkout. S3 = internal only. Every row has an alarm and an owner.};
\node[note, minimum width=128pt, minimum height=26pt] (n5) at (1066.5,678) {Chaos drill on 10 Sep: kill the processor\\sandbox for 10 min and watch the 3 tries\\behave under real traffic.};
\node[odot] (n5d) at (1006,698) {};
\node[lbl, anchor=west, text=ink!80] (n5t) at (1014,698) {Scheduled, owner: SRE};

% ---------- bottom note ----------
\node[anchor=west, font=\hand\fz{4.3}{5}, text=ink!75] (foot) at (57,722) {Present mode walks the six frames: context and request path, state machine, sequence, capacity, failure modes, then the review notes and rollout.};
\end{tikzpicture}
\end{document}
